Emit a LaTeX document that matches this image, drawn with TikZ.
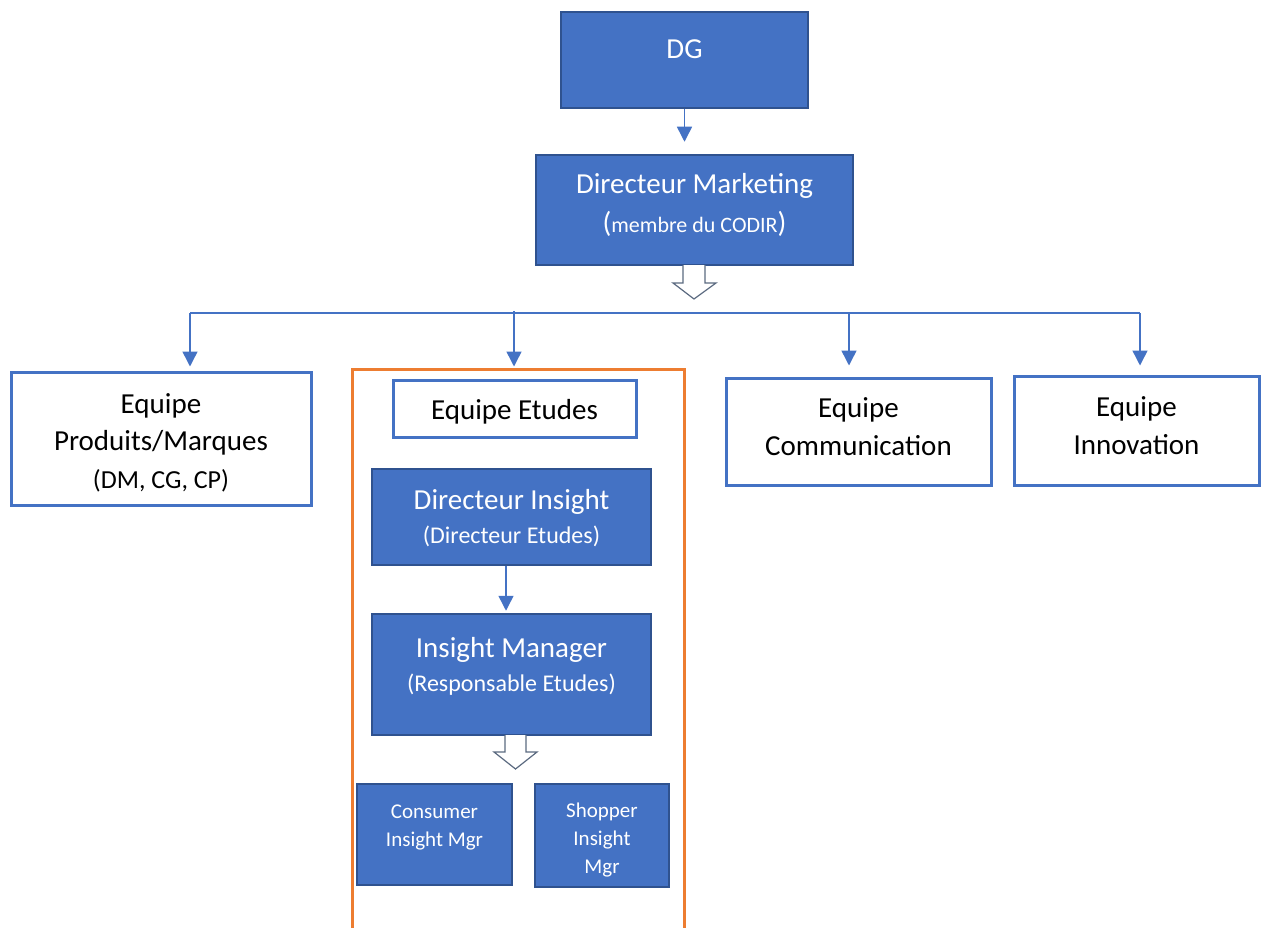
\documentclass[tikz,border=0pt]{standalone}
\usepackage{fontspec}
\setmainfont{Carlito}
\usetikzlibrary{arrows.meta,calc}

\definecolor{boxblue}{HTML}{4472C4}
\definecolor{boxedge}{HTML}{2F528F}
\definecolor{groupline}{HTML}{ED7D31}
\definecolor{blockline}{HTML}{5B6A80}

\newcommand\bigtxt{\fontsize{29}{35}\selectfont}
\newcommand\midtxt{\fontsize{24}{29}\selectfont}
\newcommand\codetxt{\fontsize{26}{31}\selectfont}
\newcommand\parentxt{\fontsize{22}{27}\selectfont}
\newcommand\smalltxt{\fontsize{21}{25}\selectfont}

\tikzset{
  solidbox/.style={draw=boxedge, line width=2.5pt, fill=boxblue, inner sep=0pt},
  openbox/.style={draw=boxblue, line width=3pt, fill=white, inner sep=0pt},
  groupbox/.style={draw=groupline, line width=3pt, inner sep=0pt},
  wtext/.style={text=white, anchor=base, inner sep=0pt},
  btext/.style={text=black, anchor=base, inner sep=0pt},
  link/.style={draw=boxblue, line width=1.5pt, -{Triangle[length=15pt,width=15pt]}},
  bus/.style={draw=boxblue, line width=1.5pt},
  hollow/.style={draw=blockline, line width=1.2pt, fill=white, line join=miter},
}

\begin{document}
\begin{tikzpicture}[x=1pt,y=-1pt]
\useasboundingbox (0,0) rectangle (1261,928);

% top of the hierarchy
\node[solidbox, minimum width=247pt, minimum height=96pt] (dg) at (684.5,60) {};
\node[wtext, font=\bigtxt] (dg-t) at (684.5,59) {DG};

\node[solidbox, minimum width=317pt, minimum height=110pt] (dm) at (694.5,210) {};
\node[wtext, font=\bigtxt] (dm-t1) at (694.5,194) {Directeur Marketing};
\node[wtext] (dm-t2) at (694.5,233) {{\bigtxt(}{\parentxt membre du CODIR}{\bigtxt)}};

\draw[link, shorten >=12pt] (dg.south) -- (dg.south |- dm.north);

% block arrow from the marketing director to the teams
\coordinate (dm-out) at (694,265);
\draw[hollow] ($(dm-out)+(-11,0)$) -- ++(0,18) -- ++(-10,0) -- ++(21,16)
  -- ++(22,-16) -- ++(-11,0) -- ++(0,-18);

% the four teams
\node[openbox, minimum width=300pt, minimum height=133pt] (prod) at (161,438.5) {};
\node[btext, font=\bigtxt] (prod-t1) at (161,413) {Equipe};
\node[btext, font=\bigtxt] (prod-t2) at (161,450.5) {Produits/Marques};
\node[btext, font=\codetxt] (prod-t3) at (161,488) {(DM, CG, CP)};

\node[groupbox, minimum width=332pt, minimum height=600pt] (grp) at (518,669) {};

\node[openbox, minimum width=265pt, minimum height=107pt] (comm) at (858.5,431.5) {};
\node[btext, font=\bigtxt] (comm-t1) at (858.5,417) {Equipe};
\node[btext, font=\bigtxt] (comm-t2) at (858.5,455) {Communication};

\node[openbox, minimum width=245pt, minimum height=109pt] (innov) at (1136.5,430.5) {};
\node[btext, font=\bigtxt] (innov-t1) at (1136.5,416) {Equipe};
\node[btext, font=\bigtxt] (innov-t2) at (1136.5,454) {Innovation};

% distribution bus
\coordinate (busL) at (190,313);
\coordinate (busE) at (514,313);
\coordinate (busC) at (849,313);
\coordinate (busR) at (1140,313);
\draw[bus] (busL) -- (busR);
\draw[link, shorten >=4pt] (busL) -- (busL |- prod.north);
\draw[link, shorten >=1pt] ([yshift=2pt]busE) -- (busE |- grp.north);
\draw[link, shorten >=11pt] (busC) -- (busC |- comm.north);
\draw[link, shorten >=9pt] (busR) -- (busR |- innov.north);

% inside the studies team
\node[openbox, minimum width=243pt, minimum height=57pt] (eqet) at (514.5,408.5) {};
\node[btext, font=\bigtxt] (eqet-t) at (514.5,419) {Equipe Etudes};

\node[solidbox, minimum width=279pt, minimum height=96pt] (dirins) at (511.5,517) {};
\node[wtext, font=\bigtxt] (dirins-t1) at (511.5,509) {Directeur Insight};
\node[wtext, font=\midtxt] (dirins-t2) at (511.5,543) {(Directeur Etudes)};

\node[solidbox, minimum width=279pt, minimum height=121pt] (insmgr) at (511.5,674.5) {};
\node[wtext, font=\bigtxt] (insmgr-t1) at (511.5,657) {Insight Manager};
\node[wtext, font=\midtxt] (insmgr-t2) at (511.5,691) {(Responsable Etudes)};

\draw[link, shorten >=2pt] ([xshift=-5.5pt]dirins.south) -- ([xshift=-5.5pt]dirins.south |- insmgr.north);

\coordinate (im-out) at (515.5,735);
\draw[hollow] ($(im-out)+(-10.5,0)$) -- ++(0,17) -- ++(-11,0) -- ++(21.5,17)
  -- ++(21.5,-17) -- ++(-11,0) -- ++(0,-17);

\node[solidbox, minimum width=155pt, minimum height=101pt] (cons) at (434.5,834.5) {};
\node[wtext, font=\smalltxt] (cons-t1) at (434.5,818) {Consumer};
\node[wtext, font=\smalltxt] (cons-t2) at (434.5,846) {Insight Mgr};

\node[solidbox, minimum width=134pt, minimum height=103pt] (shop) at (602,835.5) {};
\node[wtext, font=\smalltxt] (shop-t1) at (602,817) {Shopper};
\node[wtext, font=\smalltxt] (shop-t2) at (602,845) {Insight};
\node[wtext, font=\smalltxt] (shop-t3) at (602,873) {Mgr};
\end{tikzpicture}
\end{document}
